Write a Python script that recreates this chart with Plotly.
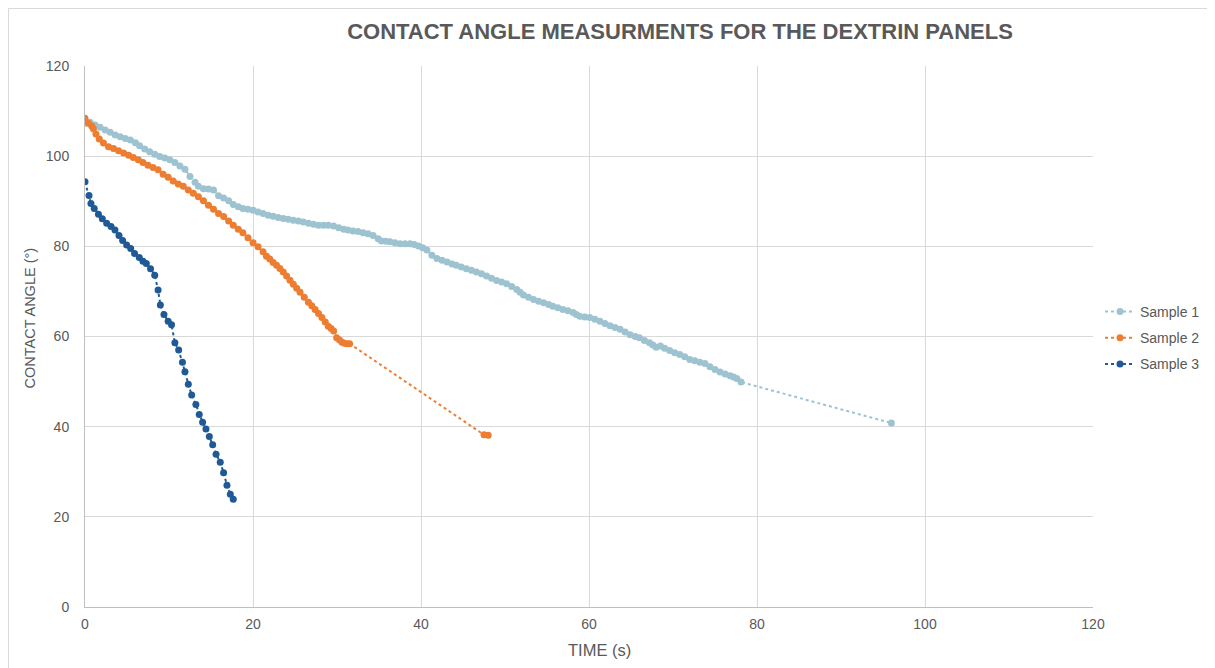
import plotly.graph_objects as go

# Sample 1 (light blue)
s1_t = [0, 0.6, 1.2, 1.8, 2.4, 3.0, 3.6, 4.2, 4.8, 5.4, 6.0, 6.5, 7.1, 7.7, 8.3, 8.9, 9.5, 10.1,
        10.7, 11.3, 11.9, 12.5, 13.1, 13.5, 14.1, 14.7, 15.3, 15.9, 16.5, 17.1, 17.65, 18.25, 18.8,
        19.4, 20.0, 20.6, 21.2, 21.8, 22.4, 23.0, 23.6, 24.2, 24.8, 25.4, 26.0, 26.6, 27.2, 27.8,
        28.4, 28.96, 29.6, 30.2, 30.8, 31.3, 31.9, 32.5, 33.1, 33.7, 34.3, 34.9, 35.3, 35.8, 36.3,
        36.9, 37.5, 38.1, 38.7, 39.2, 39.7, 40.2, 40.7, 41.3, 41.9, 42.5, 43.1, 43.7, 44.2, 44.8,
        45.4, 46.0, 46.6, 47.2, 47.8, 48.4, 49.0, 49.6, 50.2, 50.8, 51.4, 51.8, 52.2, 52.8, 53.4,
        54.0, 54.6, 55.2, 55.7, 56.3, 56.9, 57.5, 58.1, 58.5, 58.9, 59.5, 60.1, 60.7, 61.3, 61.9,
        62.5, 63.1, 63.7, 64.3, 64.9, 65.5, 66.0, 66.6, 67.2, 67.6, 68.0, 68.5, 69.0, 69.6, 70.2,
        70.8, 71.4, 72.0, 72.6, 73.2, 73.8, 74.4, 75.0, 75.6, 76.2, 76.8, 77.2, 77.6, 78.1, 96.0]
s1_a = [107.3, 107.5, 106.9, 106.4, 105.8, 105.3, 104.7, 104.3, 103.9, 103.6, 103.0, 102.3, 101.6,
        101.0, 100.4, 99.9, 99.6, 99.2, 98.6, 97.8, 97.1, 95.5, 94.2, 93.3, 92.8, 92.7, 92.5, 91.2,
        90.7, 90.1, 89.3, 88.8, 88.4, 88.2, 88.0, 87.6, 87.3, 86.9, 86.7, 86.4, 86.2, 86.0, 85.8,
        85.6, 85.4, 85.1, 84.9, 84.7, 84.7, 84.7, 84.5, 84.1, 83.8, 83.6, 83.4, 83.3, 83.0, 82.8,
        82.4, 81.7, 81.2, 81.1, 81.0, 80.8, 80.6, 80.6, 80.6, 80.4, 80.1, 79.7, 79.2, 78.0, 77.3,
        76.9, 76.5, 76.1, 75.8, 75.4, 75.0, 74.7, 74.3, 73.9, 73.4, 72.9, 72.4, 72.1, 71.7, 71.1,
        70.4, 69.8, 69.2, 68.7, 68.2, 67.8, 67.5, 67.1, 66.7, 66.4, 66.0, 65.7, 65.3, 64.9, 64.5,
        64.3, 64.2, 63.8, 63.4, 62.9, 62.4, 62.0, 61.6, 61.0, 60.4, 60.0, 59.7, 59.1, 58.6, 58.1,
        57.6, 57.9, 57.4, 56.9, 56.4, 56.0, 55.5, 54.9, 54.6, 54.3, 54.0, 53.3, 52.7, 52.1, 51.7,
        51.3, 51.0, 50.7, 49.9, 40.8]

# Sample 2 (orange)
s2_t = [0, 0.4, 0.8, 1.0, 1.3, 1.7, 2.2, 2.8, 3.4, 4.0, 4.6, 5.2, 5.75, 6.35, 6.9, 7.5, 8.1, 8.7,
        9.3, 9.9, 10.5, 11.1, 11.7, 12.3, 12.9, 13.5, 14.1, 14.7, 15.3, 15.9, 16.5, 17.1, 17.65,
        18.25, 18.8, 19.4, 20.0, 20.6, 21.2, 21.6, 22.0, 22.4, 22.8, 23.2, 23.6, 24.0, 24.4, 24.8,
        25.2, 25.6, 26.1, 26.6, 27.0, 27.4, 27.8, 28.2, 28.6, 28.96, 29.3, 29.6, 29.96, 30.3, 30.6,
        30.9, 31.2, 31.5, 47.5, 48.0]
s2_a = [108.4, 107.3, 106.7, 106.1, 104.9, 103.8, 102.9, 102.1, 101.7, 101.2, 100.7, 100.2, 99.7,
        99.2, 98.6, 98.0, 97.5, 97.0, 96.0, 95.3, 94.5, 93.8, 93.3, 92.5, 91.8, 91.0, 90.1, 89.1,
        88.2, 87.3, 86.6, 85.6, 84.7, 83.8, 83.0, 81.9, 80.8, 79.9, 78.8, 77.8, 77.2, 76.4, 75.8,
        75.1, 74.3, 73.4, 72.5, 71.6, 70.7, 69.8, 68.7, 67.6, 66.8, 66.0, 65.1, 64.2, 63.2, 62.3,
        61.8, 61.2, 59.7, 59.2, 58.7, 58.5, 58.4, 58.4, 38.2, 38.1]

# Sample 3 (dark blue)
s3_t = [0, 0.48, 0.71, 1.1, 1.6, 2.06, 2.58, 3.1, 3.57, 4.05, 4.48, 4.96, 5.44, 5.9, 6.46, 6.9, 7.3,
        7.8, 8.3, 8.7, 8.97, 9.4, 9.9, 10.3, 10.7, 11.15, 11.6, 11.9, 12.3, 12.7, 13.2, 13.6, 14.0,
        14.4, 14.8, 15.2, 15.6, 16.1, 16.5, 16.9, 17.3, 17.65]
s3_a = [94.3, 91.3, 89.5, 88.4, 87.1, 86.1, 85.1, 84.4, 83.6, 82.4, 81.3, 80.3, 79.5, 78.4, 77.5,
        76.7, 76.2, 75.0, 73.6, 70.3, 67.0, 64.9, 63.4, 62.6, 58.6, 57.0, 54.3, 52.2, 49.4, 47.0,
        44.9, 42.7, 41.0, 39.5, 37.8, 36.0, 33.9, 32.1, 29.8, 27.0, 25.0, 23.9]

series = [("Sample 1", s1_t, s1_a, "#9DC3D1", 7),
          ("Sample 2", s2_t, s2_a, "#ED7D31", 7),
          ("Sample 3", s3_t, s3_a, "#1F5A96", 7)]

TXT = "#595959"
W, H = 1207, 660   # page body adds an 8px offset
fig = go.Figure()
for name, t, a, col, ms in series:
    fig.add_trace(go.Scatter(
        x=t, y=a, name=name, legendgroup=name, mode="lines+markers",
        line=dict(color=col, width=2, dash="dot"),
        marker=dict(color=col, size=ms, line=dict(width=0)),
    ))

fig.update_layout(
    width=W, height=H,
    paper_bgcolor="white", plot_bgcolor="white",
    margin=dict(l=77, r=122, t=58, b=61, autoexpand=False),
    font=dict(family="Liberation Sans, Arial, sans-serif", color=TXT, size=14),
    title=dict(text="<b>CONTACT ANGLE MEASURMENTS FOR THE DEXTRIN PANELS</b>",
               x=672 / W, xanchor="center", y=1 - 23 / H, yanchor="middle",
               font=dict(size=22, color=TXT)),
    showlegend=True,
    legend=dict(xref="container", yref="container", x=1092 / W, xanchor="left",
                y=0.5, yanchor="middle",
                font=dict(size=14, color=TXT), tracegroupgap=5,
                bgcolor="rgba(0,0,0,0)", itemwidth=30),
    xaxis=dict(range=[0, 120], tick0=0, dtick=20, showgrid=True, gridcolor="#D9D9D9",
               gridwidth=1, showline=True, linecolor="#BFBFBF", linewidth=1, zeroline=False,
               ticks="", tickfont=dict(size=14, color=TXT), ticklabelstandoff=4),
    yaxis=dict(range=[0, 120], tick0=0, dtick=20, showgrid=True, gridcolor="#D9D9D9",
               gridwidth=1, showline=True, linecolor="#BFBFBF", linewidth=1, zeroline=False,
               ticks="", tickfont=dict(size=14, color=TXT), ticklabelstandoff=12),
    annotations=[
        dict(text="TIME (s)", xref="paper", yref="paper", x=(591 - 77) / 1008,
             y=(599 - 642) / 541, xanchor="center", yanchor="middle", showarrow=False,
             font=dict(size=16.5, color=TXT)),
        dict(text="CONTACT ANGLE (°)", xref="paper", yref="paper", x=(21.5 - 77) / 1008,
             y=(599 - 310) / 541, xanchor="center", yanchor="middle", showarrow=False,
             textangle=-90, font=dict(size=14.5, color=TXT)),
    ],
)
fig.add_shape(type="rect", xref="paper", yref="paper",
              x0=(0.5 - 77) / 1008, x1=1.3, y0=-0.3, y1=(599 - 0.5) / 541,
              line=dict(color="#D9D9D9", width=1), fillcolor="rgba(0,0,0,0)", layer="below")

fig.write_html("out.html")
